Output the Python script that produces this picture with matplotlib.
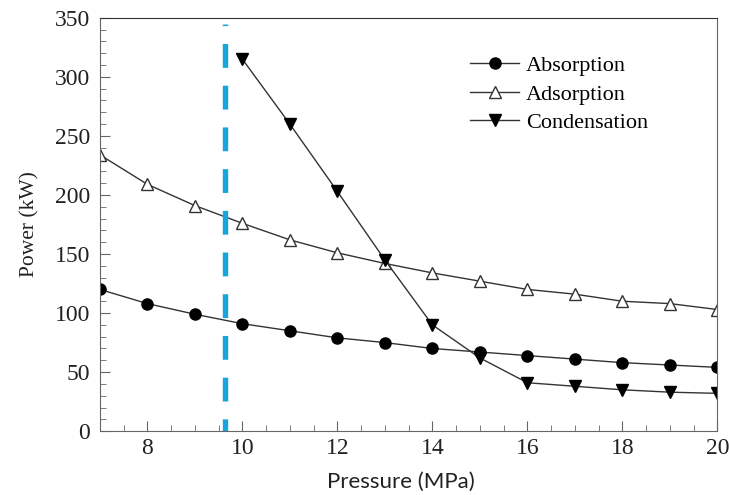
import matplotlib.pyplot as plt
from matplotlib.ticker import MultipleLocator

pressure = [7, 8, 9, 10, 11, 12, 13, 14, 15, 16, 17, 18, 19, 20]
absorption = [120, 108, 99, 91, 85, 79, 75, 70, 67, 64, 61, 58, 56, 54]
adsorption = [234, 209, 191, 176, 162, 151, 142, 134, 127, 120, 116, 110, 108, 103]
pressure_cond = [10, 11, 12, 13, 14, 15, 16, 17, 18, 19, 20]
condensation = [315, 260, 203, 145, 90, 62, 41, 38, 35, 33, 32]
marker_line = 9.64

plt.rcParams['font.family'] = ['Liberation Serif', 'DejaVu Serif']

fig = plt.figure(figsize=(7.29, 4.95), dpi=100)
ax = fig.add_axes([0.137, 0.129, 0.847, 0.835])

line_col = '#333333'
ax.plot(pressure, absorption, color=line_col, lw=1, marker='o', ms=8,
        mfc='black', mec='black', label='Absorption')
ax.plot(pressure, adsorption, color=line_col, lw=1, marker='^', ms=8.5,
        mfc='white', mec='#333333', label='Adsorption')
ax.plot(pressure_cond, condensation, color=line_col, lw=1, marker='v', ms=8.5,
        mfc='black', mec='black', label='Condensation')

# vertical dashed marker, drawn top-down so the dash pattern starts at the top
ax.plot([marker_line, marker_line], [345, 0], color='#18A5DD', lw=3.9,
        linestyle=(4.1, (4.4, 3.3)), zorder=3)

ax.set_xlim(7, 20)
ax.set_ylim(0, 350)
ax.xaxis.set_major_locator(MultipleLocator(2))
ax.xaxis.set_minor_locator(MultipleLocator(0.5))
ax.yaxis.set_major_locator(MultipleLocator(50))
ax.yaxis.set_minor_locator(MultipleLocator(10))
ax.tick_params(which='both', direction='in', top=False, right=False,
               labelsize=17, color='#666666', labelcolor='#222222')
ax.tick_params(which='major', length=7.5)
ax.tick_params(which='minor', length=4.5)
ax.tick_params(axis='x', pad=5)
ax.tick_params(axis='y', pad=7)
for name, s in ax.spines.items():
    s.set_color('#333333' if name == 'top' else '#666666')

ax.set_ylabel('Power (kW)', fontsize=15.5, labelpad=11, color='#222222')
ax.set_xlabel('Pressure (MPa)', fontsize=16, family=['Lato', 'DejaVu Sans'],
              labelpad=9, color='#222222')
ax.xaxis.label.set_x(0.487)

ax.legend(loc='upper left', bbox_to_anchor=(0.645, 0.888),
          bbox_transform=fig.transFigure, frameon=False, borderpad=0,
          borderaxespad=0, fontsize=16, handlelength=2.2, handletextpad=0.3,
          labelspacing=0.36)

fig.savefig('out.png', dpi=100)
